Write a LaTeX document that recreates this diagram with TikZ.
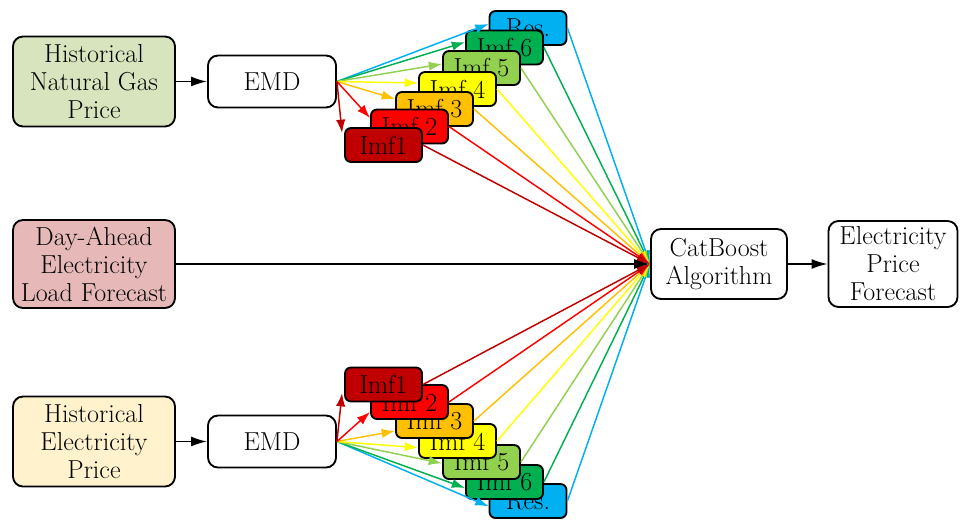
\documentclass[tikz,border=0pt]{standalone}
\usepackage{fontspec}
\usetikzlibrary{arrows.meta}
\definecolor{cA}{HTML}{C00000}
\definecolor{cB}{HTML}{FF0000}
\definecolor{cC}{HTML}{FFC000}
\definecolor{cD}{HTML}{FFFF00}
\definecolor{cE}{HTML}{92D050}
\definecolor{cF}{HTML}{00B050}
\definecolor{cG}{HTML}{00B0F0}
\definecolor{gasfill}{HTML}{D7E4BD}
\definecolor{loadfill}{HTML}{E6B9B8}
\definecolor{elecfill}{HTML}{FFF2CC}
\begin{document}
\begin{tikzpicture}[x=0.75pt,y=-0.75pt,
  font=\fontsize{19.5}{21}\selectfont,
  bigbox/.style={draw, line width=1.4pt, rounded corners=7.5pt, align=center, inner sep=0pt},
  imf/.style={draw, line width=1.4pt, rounded corners=4.5pt, minimum width=57.75pt, minimum height=25.5pt, inner sep=0pt},
  conn/.style={line width=1.1pt, -{Latex[length=10pt,width=7pt]}},
  blk/.style={line width=1.3pt, -{Latex[length=12pt,width=7.5pt]}}]
\useasboundingbox (0,0) rectangle (960,521);

% left column
\node[bigbox, fill=gasfill, minimum width=121.5pt, minimum height=67.5pt] (hng) at (94,81.5) {Historical\\Natural Gas\\Price};
\node[bigbox, fill=loadfill, minimum width=121.5pt, minimum height=66pt] (day) at (94,264) {Day-Ahead\\Electricity\\Load Forecast};
\node[bigbox, fill=elecfill, minimum width=121.5pt, minimum height=67.5pt] (hep) at (94,441.5) {Historical\\Electricity\\Price};

% EMD boxes
\node[bigbox, fill=white, minimum width=96pt, minimum height=39pt] (emd1) at (272,81.5) {EMD};
\node[bigbox, fill=white, minimum width=96pt, minimum height=39pt] (emd2) at (272,441.5) {EMD};

% right
\node[bigbox, fill=white, minimum width=102pt, minimum height=52.5pt] (cat) at (719,264) {CatBoost\\Algorithm};
\node[bigbox, fill=white, minimum width=96.75pt, minimum height=64.5pt] (epf) at (893,264) {Electricity\\Price\\Forecast};

% top Imf stack (Res first, Imf1 last)
\node[imf, fill=cG] (t7) at (528,28) {Res.};
\node[imf, fill=cF] (t6) at (504.5,47.5) {Imf 6};
\node[imf, fill=cE] (t5) at (481.5,68) {Imf 5};
\node[imf, fill=cD] (t4) at (457.5,89) {Imf 4};
\node[imf, fill=cC] (t3) at (434.5,109) {Imf 3};
\node[imf, fill=cB] (t2) at (409.5,126.5) {Imf 2};
\node[imf, fill=cA] (t1) at (383.5,145) {Imf1};

% bottom Imf stack
\node[imf, fill=cG] (b7) at (528,501) {Res.};
\node[imf, fill=cF] (b6) at (504.5,482) {Imf 6};
\node[imf, fill=cE] (b5) at (481.5,462) {Imf 5};
\node[imf, fill=cD] (b4) at (457.5,441) {Imf 4};
\node[imf, fill=cC] (b3) at (434.5,421) {Imf 3};
\node[imf, fill=cB] (b2) at (409.5,402) {Imf 2};
\node[imf, fill=cA] (b1) at (383.5,384.5) {Imf1};

% EMD -> Imf (top)
\draw[conn, cG] (emd1.east) -- ([yshift=3pt]t7.west);
\draw[conn, cF] (emd1.east) -- ([yshift=4pt]t6.west);
\draw[conn, cE] (emd1.east) -- ([yshift=3pt]t5.west);
\draw[conn, cD] (emd1.east) -- ([yshift=4.5pt]t4.west);
\draw[conn, cC] (emd1.east) -- ([yshift=7.5pt]t3.west);
\draw[conn, cB] (emd1.east) -- ([yshift=6.4pt]t2.west);
\draw[conn, cA] (emd1.east) -- ([yshift=9pt,xshift=-1.5pt]t1.west);

% EMD -> Imf (bottom)
\draw[conn, cG] (emd2.east) -- ([yshift=-4pt]b7.west);
\draw[conn, cF] (emd2.east) -- ([yshift=-4.5pt]b6.west);
\draw[conn, cE] (emd2.east) -- ([yshift=-1pt]b5.west);
\draw[conn, cD] (emd2.east) -- ([yshift=-5pt]b4.west);
\draw[conn, cC] (emd2.east) -- ([yshift=-7.5pt]b3.west);
\draw[conn, cB] (emd2.east) -- ([yshift=-7.5pt]b2.west);
\draw[conn, cA] (emd2.east) -- ([yshift=-6.4pt,xshift=-1.5pt]b1.west);

% Imf -> CatBoost
\foreach \n/\c in {7/cG,6/cF,5/cE,4/cD,3/cC,2/cB,1/cA}{
  \draw[conn, \c] (t\n.east) -- (cat.west);
  \draw[conn, \c] (b\n.east) -- (cat.west);
}

% black connectors
\draw[blk] (hng.east) -- (emd1.west);
\draw[blk] (hep.east) -- (emd2.west);
\draw[blk] (day.east) -- (cat.west);
\draw[blk] (cat.east) -- (epf.west);
\end{tikzpicture}
\end{document}
